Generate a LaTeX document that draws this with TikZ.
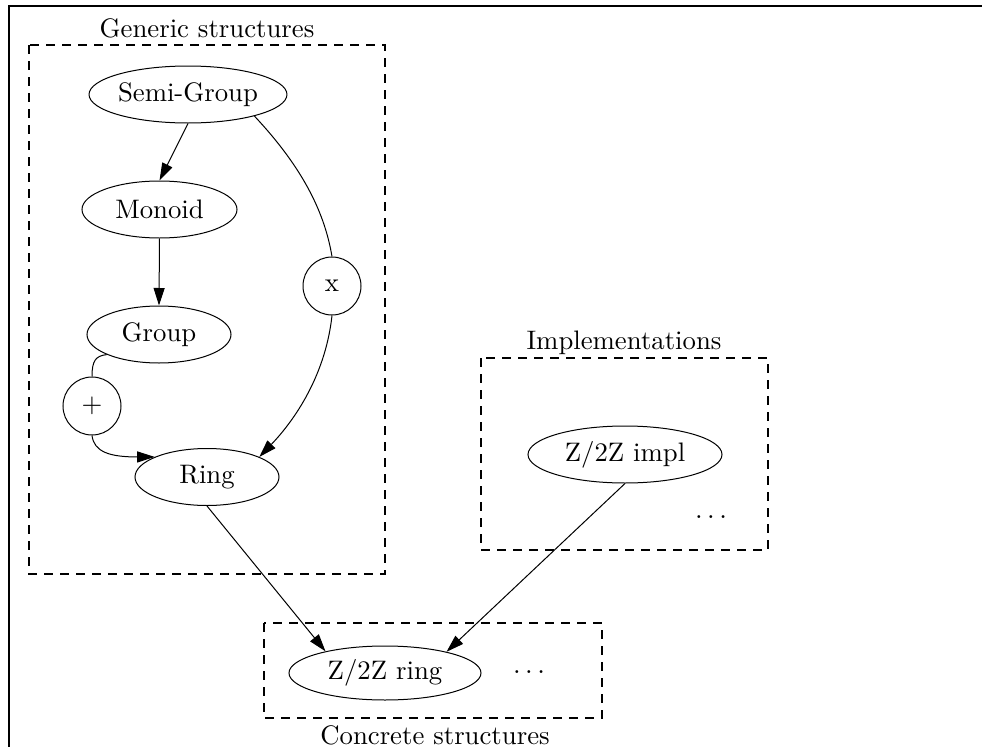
\documentclass[tikz,border=0pt]{standalone}
\usetikzlibrary{arrows.meta, positioning, shapes.geometric}

\begin{document}
\begin{tikzpicture}[
    x=0.4pt,
    y=-0.4pt,
    font=\fontsize{10.7}{13}\selectfont,
    structure/.style={
        ellipse,
        draw,
        inner sep=0pt,
        minimum height=22.8pt,
    },
    operation/.style={
        circle,
        draw,
        inner sep=0pt,
        minimum size=23.2pt,
    },
    cluster/.style={
        dash pattern=on 3.6pt off 2.8pt,
        line width=0.45pt,
    },
    relation/.style={
        -{Triangle[length=7pt, width=4.4pt]},
    },
    caption/.style={
        text depth=0pt,
    }
]
    \useasboundingbox (0,0) rectangle (982,747);

    % Frame
    \draw[line width=0.6pt] (9,747) -- (9,6) -- (982,6);

    % Clusters
    \draw[cluster] (29,45) rectangle (385,574);
    \draw[cluster] (481,358) rectangle (768,550);
    \draw[cluster] (264,623) rectangle (602,718);
    \node[caption] (genericlabel) at (207,28) {Generic structures};
    \node[caption] (impllabel) at (624,340) {Implementations};
    \node[caption] (concretelabel) at (435,735) {Concrete structures};

    % Structures
    \node[structure, minimum width=72.8pt] (semigroup) at (188,94.5) {Semi-Group};
    \node[structure, minimum width=62pt] (monoid) at (159.5,209.5) {Monoid};
    \node[structure, minimum width=57.6pt] (group) at (159,334.5) {Group};
    \node[structure, minimum width=57.6pt] (ring) at (207,477) {Ring};
    \node[operation] (mult) at (332,286) {x};
    \node[operation] (plus) at (92,406) {+};
    \node[structure, minimum width=77.6pt] (implnode) at (625,454.5) {Z/2Z impl};
    \node (impldots) at (711,517) {$\dots$};
    \node[structure, minimum width=76.8pt, minimum height=21.6pt] (zring) at (385,673) {Z/2Z ring};
    \node (zringdots) at (529,672) {$\dots$};

    % Edges
    \draw[relation] (semigroup.south) -- (monoid.north);
    \draw[relation] (monoid.south) -- (group.north);
    \draw (semigroup.-18) .. controls (305,170) and (325,215) .. (mult.north);
    \draw[relation] (mult.south) .. controls (325,380) and (290,425) .. (ring.21);
    \draw (group.201) .. controls (96,356) and (92,360) .. (plus.north);
    \draw[relation] (plus.south) .. controls (94,452) and (110,457) .. (ring.159);
    \draw[relation] (ring.south) -- (zring.160);
    \draw[relation] (implnode.south) -- (zring.19);
\end{tikzpicture}
\end{document}
